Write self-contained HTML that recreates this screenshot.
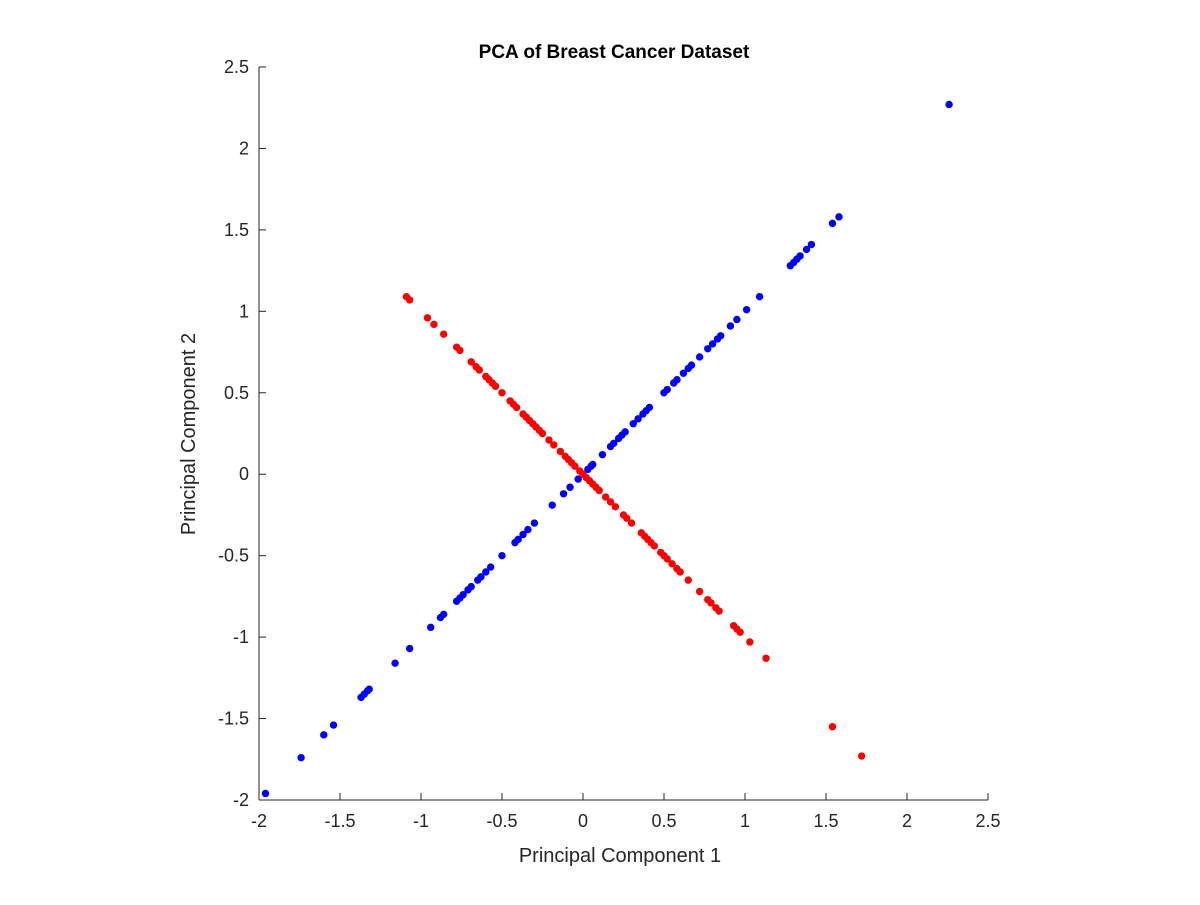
<!DOCTYPE html>
<html><head><meta charset="utf-8"><style>
body{margin:0;background:#fff;}
svg text{font-family:"Liberation Sans",Arial,sans-serif;fill:#262626;}
</style></head><body>
<svg id="chart" width="1200" height="900">
<rect width="1200" height="900" fill="#fff"/>
<text x="614" y="58" text-anchor="middle" font-size="19" font-weight="bold" style="fill:#000">PCA of Breast Cancer Dataset</text>
<text x="620" y="862" text-anchor="middle" font-size="20">Principal Component 1</text>
<text transform="translate(195,434) rotate(-90)" text-anchor="middle" font-size="20">Principal Component 2</text>
<g id="axes"></g>
<g id="marks"></g>
</svg>
<script>
const xTicks=[-2,-1.5,-1,-0.5,0,0.5,1,1.5,2,2.5];
const yTicks=[-2,-1.5,-1,-0.5,0,0.5,1,1.5,2,2.5];
const xTickLabels=["-2","-1.5","-1","-0.5","0","0.5","1","1.5","2","2.5"];
const yTickLabels=["-2","-1.5","-1","-0.5","0","0.5","1","1.5","2","2.5"];
const blueX=[-1.96,-1.74,-1.60,-1.54,-1.37,-1.35,-1.33,-1.32,-1.16,-1.07,-0.94,-0.88,-0.86,-0.78,-0.76,-0.74,-0.71,-0.69,-0.65,-0.63,-0.60,-0.57,-0.50,-0.42,-0.40,-0.37,-0.34,-0.30,-0.19,-0.12,-0.08,-0.03,0.00,0.03,0.05,0.06,0.12,0.17,0.19,0.22,0.24,0.26,0.31,0.34,0.37,0.39,0.41,0.50,0.52,0.56,0.58,0.62,0.65,0.67,0.72,0.77,0.80,0.83,0.85,0.91,0.95,1.01,1.09,1.28,1.30,1.32,1.34,1.38,1.41,1.54,1.58,2.26];
const blueY=[-1.96,-1.74,-1.60,-1.54,-1.37,-1.35,-1.33,-1.32,-1.16,-1.07,-0.94,-0.88,-0.86,-0.78,-0.76,-0.74,-0.71,-0.69,-0.65,-0.63,-0.60,-0.57,-0.50,-0.42,-0.40,-0.37,-0.34,-0.30,-0.19,-0.12,-0.08,-0.03,0.00,0.03,0.05,0.06,0.12,0.17,0.19,0.22,0.24,0.26,0.31,0.34,0.37,0.39,0.41,0.50,0.52,0.56,0.58,0.62,0.65,0.67,0.72,0.77,0.80,0.83,0.85,0.91,0.95,1.01,1.09,1.28,1.30,1.32,1.34,1.38,1.41,1.54,1.58,2.27];
const redX=[-1.09,-1.07,-0.96,-0.92,-0.86,-0.78,-0.76,-0.69,-0.66,-0.64,-0.60,-0.58,-0.56,-0.54,-0.50,-0.45,-0.43,-0.41,-0.37,-0.35,-0.33,-0.31,-0.29,-0.27,-0.25,-0.21,-0.18,-0.14,-0.11,-0.09,-0.07,-0.05,-0.02,0.00,0.02,0.04,0.06,0.08,0.10,0.14,0.17,0.20,0.25,0.27,0.30,0.36,0.38,0.40,0.42,0.44,0.48,0.50,0.52,0.55,0.58,0.60,0.65,0.72,0.77,0.79,0.82,0.84,0.93,0.95,0.97,1.03,1.13,1.54,1.72];
const redY=[1.09,1.07,0.96,0.92,0.86,0.78,0.76,0.69,0.66,0.64,0.60,0.58,0.56,0.54,0.50,0.45,0.43,0.41,0.37,0.35,0.33,0.31,0.29,0.27,0.25,0.21,0.18,0.14,0.11,0.09,0.07,0.05,0.02,0.00,-0.02,-0.04,-0.06,-0.08,-0.10,-0.14,-0.17,-0.20,-0.25,-0.27,-0.30,-0.36,-0.38,-0.40,-0.42,-0.44,-0.48,-0.50,-0.52,-0.55,-0.58,-0.60,-0.65,-0.72,-0.77,-0.79,-0.82,-0.84,-0.93,-0.95,-0.97,-1.03,-1.13,-1.55,-1.73];
const L=259,R=988,T=67,B=800,xmin=-2,xmax=2.5,ymin=-2,ymax=2.5;
const sx=v=>L+(v-xmin)/(xmax-xmin)*(R-L);
const sy=v=>B-(v-ymin)/(ymax-ymin)*(B-T);
const NS="http://www.w3.org/2000/svg";
const axes=document.getElementById('axes'),marks=document.getElementById('marks');
function mk(tag,attrs,parent){const e=document.createElementNS(NS,tag);for(const k in attrs)e.setAttribute(k,attrs[k]);parent.appendChild(e);return e;}
let xl=mk('line',{x1:L,y1:B,x2:R,y2:B,stroke:'#262626','stroke-width':1},axes);


let yl=mk('line',{x1:L,y1:T,x2:L,y2:B,stroke:'#262626','stroke-width':1},axes);


xTicks.forEach((v,i)=>{const x=sx(v);
 const t=mk('line',{x1:x,y1:B,x2:x,y2:B-7,stroke:'#262626'},axes);
 
 
 const l=mk('text',{x:x,y:B+27,'text-anchor':'middle','font-size':18},axes);l.textContent=xTickLabels[i];
 
 
});
yTicks.forEach((v,i)=>{const y=sy(v);
 const t=mk('line',{x1:L,y1:y,x2:L+7,y2:y,stroke:'#262626'},axes);
 
 
 const l=mk('text',{x:L-10,y:y+6,'text-anchor':'end','font-size':18},axes);l.textContent=yTickLabels[i];
 
 
});
blueX.forEach((v,i)=>{const c=mk('circle',{cx:sx(v),cy:sy(blueY[i]),r:3.7,fill:'#0000ff'},marks);
 
 });
redX.forEach((v,i)=>{const c=mk('circle',{cx:sx(v),cy:sy(redY[i]),r:3.7,fill:'#ff0000'},marks);
 
 });
</script>
</body></html>
